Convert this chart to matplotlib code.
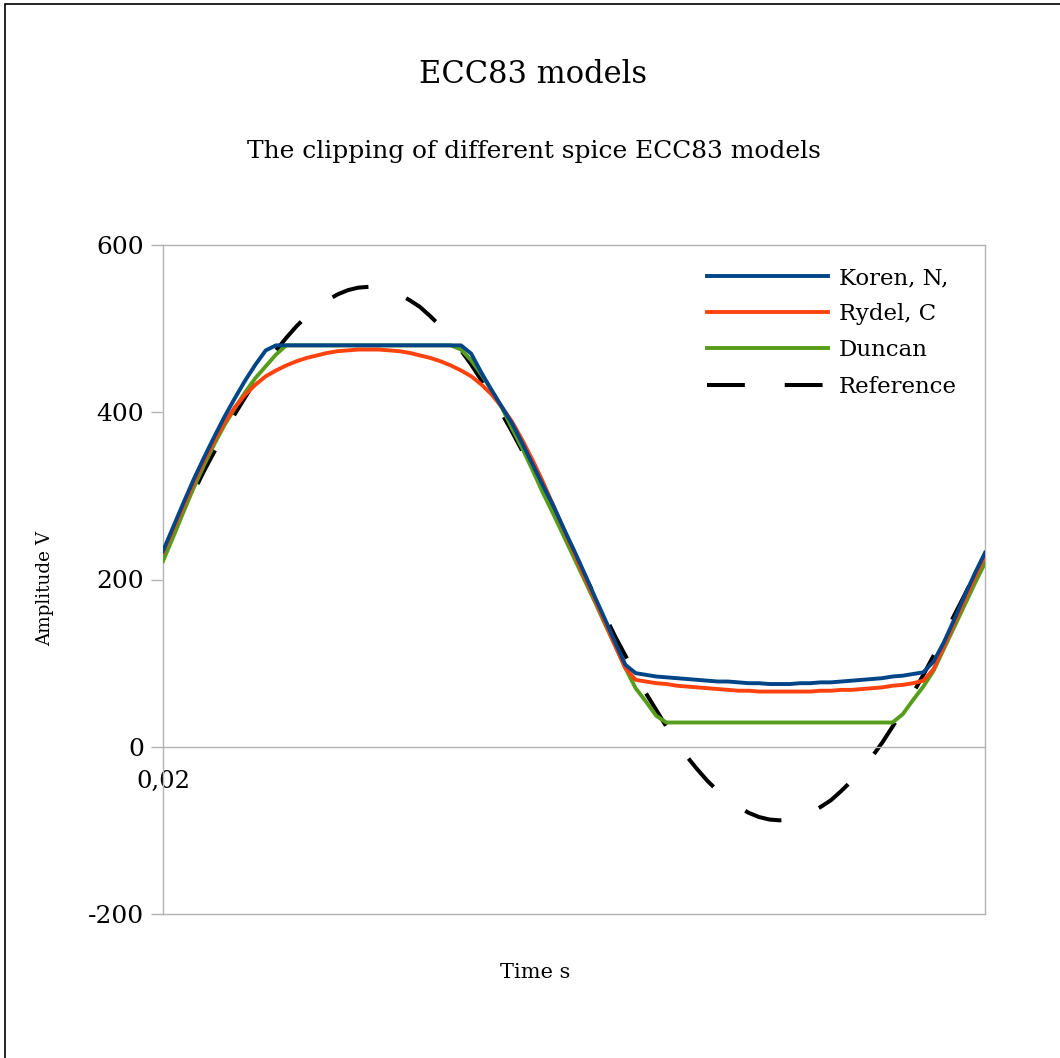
import numpy as np
import matplotlib
matplotlib.use("Agg")
import matplotlib.pyplot as plt
from matplotlib.patches import Rectangle

plt.rcParams['font.family'] = ['DejaVu Serif']

# one period sampled in 81 steps, starting at t = 0,02 s
time = np.linspace(0.02, 0.021, 81)

koren = [
    234, 263, 292, 320, 346, 371, 395, 417, 438, 457,
    474, 480, 480, 480, 480, 480, 480, 480, 480, 480,
    480, 480, 480, 480, 480, 480, 480, 480, 480, 480,
    470, 447, 426, 406, 386, 362, 337, 312, 288, 261,
    235, 208, 180, 153, 125, 98, 88, 86, 84, 83,
    82, 81, 80, 79, 78, 78, 77, 76, 76, 75,
    75, 75, 76, 76, 77, 77, 78, 79, 80, 81,
    82, 84, 85, 87, 89, 102, 125, 152, 180, 207,
    232]

rydel = [
    232, 260, 288, 316, 342, 366, 388, 406, 421, 433,
    443, 450, 456, 461, 465, 468, 471, 473, 474, 475,
    475, 475, 474, 473, 471, 468, 465, 461, 456, 450,
    443, 433, 421, 406, 388, 366, 342, 316, 288, 260,
    232, 204, 177, 149, 121, 94, 80, 78, 76, 75,
    73, 72, 71, 70, 69, 68, 67, 67, 66, 66,
    66, 66, 66, 66, 67, 67, 68, 68, 69, 70,
    71, 73, 74, 76, 79, 93, 120, 148, 175, 202,
    229]

duncan = [
    222, 251, 281, 310, 337, 362, 385, 405, 424, 441,
    455, 469, 480, 480, 480, 480, 480, 480, 480, 480,
    480, 480, 480, 480, 480, 480, 480, 480, 480, 475,
    462, 445, 426, 405, 380, 356, 330, 303, 278, 252,
    226, 200, 174, 147, 121, 94, 70, 54, 37, 29,
    29, 29, 29, 29, 29, 29, 29, 29, 29, 29,
    29, 29, 29, 29, 29, 29, 29, 29, 29, 29,
    29, 29, 39, 56, 72, 91, 117, 143, 169, 195,
    220]

reference = [
    231, 256, 281, 305, 330, 353, 376, 398, 418, 438,
    457, 474, 489, 503, 515, 526, 534, 541, 546, 549,
    550, 549, 546, 541, 534, 526, 515, 503, 489, 474,
    457, 438, 418, 398, 376, 353, 330, 305, 281, 256,
    231, 206, 181, 157, 132, 109, 86, 64, 44, 24,
    5, -12, -27, -41, -53, -64, -72, -79, -84, -87,
    -88, -87, -84, -79, -72, -64, -53, -41, -27, -12,
    5, 24, 44, 64, 86, 109, 132, 157, 181, 206,
    231]

yticks = [-200, 0, 200, 400, 600]
xtick_label = "0,02"

W, H = 1060, 1058
fig = plt.figure(figsize=(W / 100, H / 100), dpi=100)
ax = fig.add_axes([163 / W, 1 - 914 / H, (985 - 163) / W, (914 - 245) / H])

grey = "#b3b3b3"
lw = 2.8
ax.plot(time, reference, color="black", lw=2.9, linestyle=(0, (9.4, 9.9)),
        label="Reference", zorder=2)
ax.plot(time, duncan, color="#579d1c", lw=lw, label="Duncan", zorder=3)
ax.plot(time, rydel, color="#ff420e", lw=lw, label="Rydel, C", zorder=4)
ax.plot(time, koren, color="#004586", lw=lw, label="Koren, N,", zorder=5)

ax.set_xlim(time[0], time[-1])
ax.set_ylim(-200, 600)
ax.set_yticks(yticks)
ax.set_yticklabels([str(v) for v in yticks])
ax.set_xticks([time[0]])
ax.set_xticklabels([xtick_label])

for s in ax.spines.values():
    s.set_color(grey)
    s.set_linewidth(1)
# x axis crosses at 0, keep the frame line at -200
ax.spines['bottom'].set_position(('data', 0))
ax.axhline(-200, color=grey, lw=1, clip_on=False, zorder=1)

ax.tick_params(axis='y', direction='out', length=8.5, width=1, color=grey,
               labelsize=18, pad=5)
ax.tick_params(axis='x', length=0, labelsize=17.5, pad=17)

handles, labels = ax.get_legend_handles_labels()
order = [3, 2, 1, 0]
ax.legend([handles[i] for i in order], [labels[i] for i in order],
          loc='upper left', bbox_to_anchor=(707 / W, 1 - 267 / H),
          bbox_transform=fig.transFigure, frameon=False, fontsize=16.5,
          handlelength=5.3, handletextpad=0.45, labelspacing=0.62,
          borderpad=0, borderaxespad=0)

fig.text(533 / W, 1 - 83 / H, "ECC83 models", ha='center', va='baseline',
         fontsize=22)
fig.text(534 / W, 1 - 158 / H, "The clipping of different spice ECC83 models",
         ha='center', va='baseline', fontsize=17.9)
fig.text(535 / W, 1 - 973 / H, "Time s", ha='center', va='center', fontsize=15)
fig.text(45 / W, 1 - 588 / H, "Amplitude V", ha='center', va='center',
         rotation=90, fontsize=13.2)

fig.patches.append(Rectangle((5 / W, -0.1), 2, 1 - 4 / H + 0.1, fill=False,
                             edgecolor="black", lw=1.2,
                             transform=fig.transFigure, figure=fig))

fig.savefig("out.png", dpi=100)
